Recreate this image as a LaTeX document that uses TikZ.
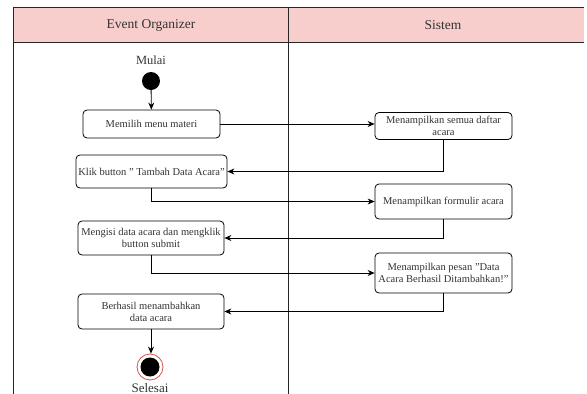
\documentclass[tikz,border=0pt]{standalone}
\usepackage{fontspec}
\setmainfont{Liberation Serif}
\usetikzlibrary{arrows.meta}
\definecolor{hdr}{HTML}{F8CECC}
\definecolor{endring}{HTML}{D9534F}
\definecolor{txt}{HTML}{333333}
\tikzset{
  act/.style={draw, rounded corners=4pt, line width=0.8pt, align=center, inner sep=1pt,
    text=txt, font=\fontsize{10.5}{12}\selectfont, fill=white},
  flow/.style={line width=0.8pt, -{Stealth[length=7pt,width=6pt]}},
  lane/.style={line width=0.9pt, draw=black!85},
  lbl/.style={text=txt, inner sep=0pt}
}
\begin{document}
\begin{tikzpicture}[x=1pt,y=-1pt]
\useasboundingbox (0,0) rectangle (587,394);
% swimlanes
\fill[hdr] (13,7) rectangle (584,42);
\draw[lane] (13,7) -- (584,7);
\draw[lane] (13,42) -- (584,42);
\draw[lane] (13,7) -- (13,394);
\draw[lane] (288,7) -- (288,394);
\node[lbl, font=\fontsize{13.5}{15}\selectfont] (h1) at (151,25) {Event Organizer};
\node[lbl, font=\fontsize{13.5}{15}\selectfont] (h2) at (443,25) {Sistem};
% start
\node[lbl, font=\fontsize{12.5}{14}\selectfont] (mulai) at (151,60) {Mulai};
\node[circle, fill=black, minimum size=18pt, inner sep=0pt] (start) at (151,81) {};
% activities
\node[act, minimum width=137pt, minimum height=28pt] (m1) at (151.5,124) {Memilih menu materi};
\node[act, minimum width=137pt, minimum height=27pt] (s1) at (443.5,126) {Menampilkan semua daftar\\acara};
\node[act, minimum width=151pt, minimum height=33pt] (m2) at (151.5,171.5) {Klik button '' Tambah Data Acara''};
\node[act, minimum width=137pt, minimum height=35pt] (s2) at (443.5,201.5) {Menampilkan formulir acara};
\node[act, minimum width=146pt, minimum height=34pt] (m3) at (151,238) {Mengisi data acara dan mengklik\\button submit};
\node[act, minimum width=137pt, minimum height=40pt] (s3) at (443.5,273) {Menampilkan pesan ''Data\\Acara Berhasil Ditambahkan!''};
\node[act, minimum width=146pt, minimum height=35pt] (m4) at (151,311.5) {Berhasil menambahkan\\data acara};
% end
\node[circle, draw=endring, line width=0.8pt, fill=white, minimum size=26pt, inner sep=0pt] (end) at (150,367) {};
\node[circle, fill=black, minimum size=19pt, inner sep=0pt] (endin) at (end.center) {};
\node[lbl, font=\fontsize{13}{15}\selectfont] (selesai) at (150,388) {Selesai};
% flows
\draw[flow] (start) -- (m1);
\draw[flow] (m1.east) -- (m1.east -| s1.west);
\draw[flow] (s1.south) |- (m2.east);
\draw[flow] (m2.south) |- (s2.west);
\draw[flow] (s2.south) |- (m3.east);
\draw[flow] (m3.south) |- (s3.west);
\draw[flow] (s3.south) |- (m4.east);
\draw[flow] (m4.south) -- (m4.south |- end.north);
\end{tikzpicture}
\end{document}
